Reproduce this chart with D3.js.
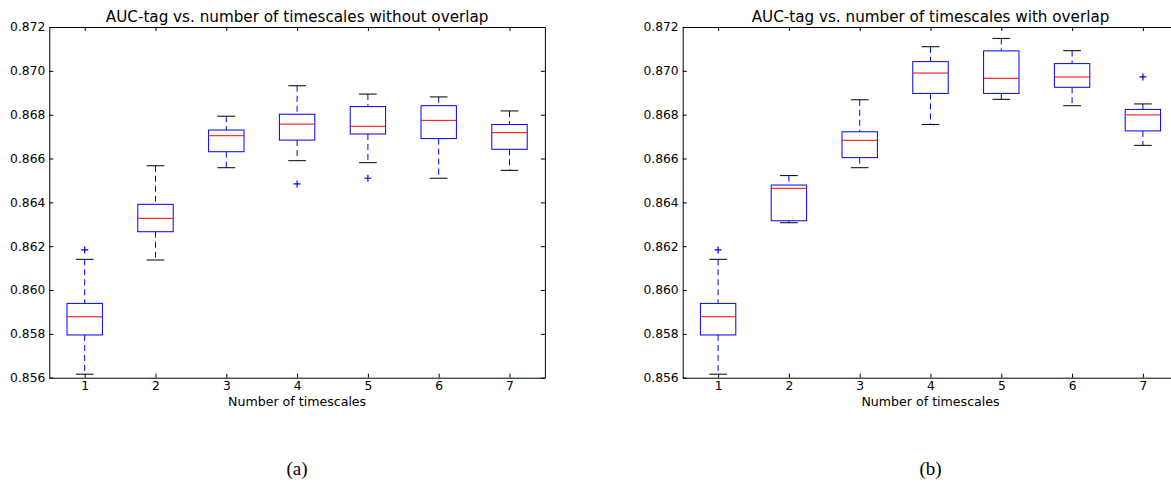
<!DOCTYPE html>
<html>
<head>
<meta charset="utf-8">
<script src="https://cdn.jsdelivr.net/npm/d3@7"></script>
<style>
  body { margin: 0; background: #fff; }
  svg { display: block; }
  .tick text { font-family: "DejaVu Sans", sans-serif; font-size: 12.3px; fill: #000; }
</style>
</head>
<body>
<svg id="chart" width="1171" height="482"></svg>
<script>
// number of timescales
var categories = [1, 2, 3, 4, 5, 6, 7];
var yTicks = [0.856, 0.858, 0.860, 0.862, 0.864, 0.866, 0.868, 0.870, 0.872];

// (a) without overlap
var aLow  = [0.85616, 0.86137, 0.86558, 0.86590, 0.86581, 0.86510, 0.86546];
var aQ1   = [0.85795, 0.86266, 0.86631, 0.86684, 0.86712, 0.86691, 0.86642];
var aMed  = [0.85878, 0.86327, 0.86704, 0.86757, 0.86747, 0.86774, 0.86718];
var aQ3   = [0.85939, 0.86391, 0.86730, 0.86802, 0.86837, 0.86841, 0.86755];
var aHigh = [0.86140, 0.86567, 0.86793, 0.86932, 0.86894, 0.86881, 0.86817];
var aOut  = [[1, 0.86183], [4, 0.86484], [5, 0.86510]];

// (b) with overlap
var bLow  = [0.85616, 0.86307, 0.86558, 0.86755, 0.86870, 0.86841, 0.86660];
var bQ1   = [0.85795, 0.86316, 0.86604, 0.86897, 0.86897, 0.86925, 0.86726];
var bMed  = [0.85878, 0.86464, 0.86683, 0.86990, 0.86966, 0.86972, 0.86799];
var bQ3   = [0.85939, 0.86479, 0.86722, 0.87042, 0.87091, 0.87033, 0.86824];
var bHigh = [0.86140, 0.86522, 0.86868, 0.87110, 0.87148, 0.87092, 0.86849];
var bOut  = [[1, 0.86183], [7, 0.86972]];

var svg = d3.select("#chart");

function drawPanel(left, title, caption, low, q1, med, q3, high, outliers) {
  var width = 7 * 70.8, top = 27, bottom = 377.7;
  var x = d3.scaleLinear().domain([0.5, 7.5]).range([left, left + width]);
  var y = d3.scaleLinear().domain([0.856, 0.872]).range([bottom, top]);
  var g = svg.append("g");

  var boxes = g.selectAll("g.box").data(categories).enter().append("g");
  var i = function(d) { return d - 1; };

  // whiskers
  boxes.append("line")
    .attr("x1", function(d) { return x(d); }).attr("x2", function(d) { return x(d); })
    .attr("y1", function(d) { return y(high[i(d)]); }).attr("y2", function(d) { return y(q3[i(d)]); })
    .attr("stroke", "#0000ff").attr("stroke-dasharray", "6,4");
  boxes.append("line")
    .attr("x1", function(d) { return x(d); }).attr("x2", function(d) { return x(d); })
    .attr("y1", function(d) { return y(q1[i(d)]); }).attr("y2", function(d) { return y(low[i(d)]); })
    .attr("stroke", "#0000ff").attr("stroke-dasharray", "6,4");
  // caps
  [high, low].forEach(function(arr) {
    boxes.append("line")
      .attr("x1", function(d) { return x(d - 0.125); }).attr("x2", function(d) { return x(d + 0.125); })
      .attr("y1", function(d) { return y(arr[i(d)]); }).attr("y2", function(d) { return y(arr[i(d)]); })
      .attr("stroke", "#000");
  });
  // box
  boxes.append("rect")
    .attr("x", function(d) { return x(d - 0.25); })
    .attr("width", x(1.5) - x(1))
    .attr("y", function(d) { return y(q3[i(d)]); })
    .attr("height", function(d) { return y(q1[i(d)]) - y(q3[i(d)]); })
    .attr("fill", "none").attr("stroke", "#0000ff");
  // median
  boxes.append("line")
    .attr("x1", function(d) { return x(d - 0.25); }).attr("x2", function(d) { return x(d + 0.25); })
    .attr("y1", function(d) { return y(med[i(d)]); }).attr("y2", function(d) { return y(med[i(d)]); })
    .attr("stroke", "#ff0000");
  // outliers
  g.selectAll("path.flier").data(outliers).enter().append("path")
    .attr("d", function(d) {
      var cx = x(d[0]), cy = y(d[1]);
      return "M" + (cx - 3.5) + "," + cy + "H" + (cx + 3.5) + "M" + cx + "," + (cy - 3.5) + "V" + (cy + 3.5);
    })
    .attr("stroke", "#0000ff").attr("stroke-width", 1.2);

  // axes, ticks pointing inward
  var axes = [
    [d3.axisBottom(x), "translate(0," + bottom + ")", true],
    [d3.axisTop(x), "translate(0," + top + ")", false],
    [d3.axisLeft(y), "translate(" + left + ",0)", true],
    [d3.axisRight(y), "translate(" + (left + width) + ",0)", false]
  ];
  axes.forEach(function(a, k) {
    var ax = a[0].tickSizeInner(-4).tickSizeOuter(0).tickPadding(k < 2 ? 4 : 4);
    if (k < 2) ax.tickValues(categories).tickFormat(d3.format("d"));
    else ax.tickValues(yTicks).tickFormat(d3.format(".3f"));
    if (!a[2]) ax.tickFormat("");
    var ag = g.append("g").attr("transform", a[1]).call(ax);
    ag.select(".domain").attr("stroke", "#000");
    ag.selectAll(".tick line").attr("stroke", "#000");
  });

  var cx = left + width / 2;
  g.append("text").attr("x", cx).attr("y", 22).attr("text-anchor", "middle")
    .style("font-family", "DejaVu Sans, sans-serif").style("font-size", "15.2px").text(title);
  g.append("text").attr("x", cx).attr("y", 406).attr("text-anchor", "middle")
    .style("font-family", "DejaVu Sans, sans-serif").style("font-size", "12.6px").text("Number of timescales");
  g.append("text").attr("x", cx).attr("y", 475).attr("text-anchor", "middle")
    .style("font-family", "Liberation Serif, serif").style("font-size", "19px").text(caption);
}

drawPanel(49.3, "AUC-tag vs. number of timescales without overlap", "(a)", aLow, aQ1, aMed, aQ3, aHigh, aOut);
drawPanel(682.7, "AUC-tag vs. number of timescales with overlap", "(b)", bLow, bQ1, bMed, bQ3, bHigh, bOut);
</script>
</body>
</html>
